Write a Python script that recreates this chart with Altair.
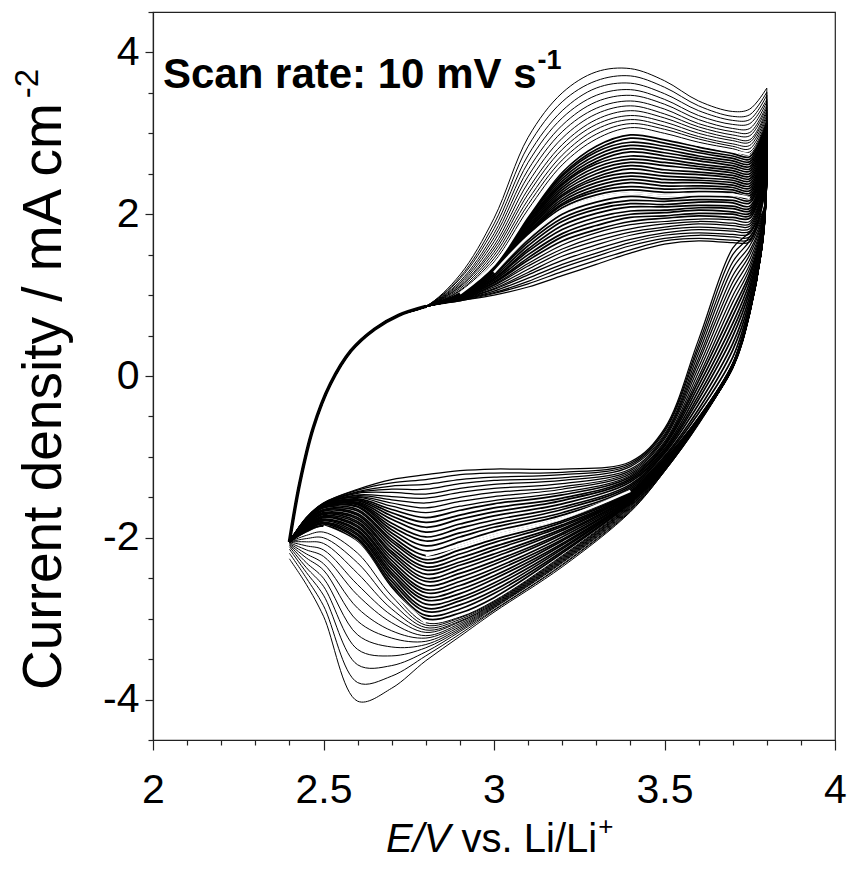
import altair as alt
import pandas as pd

# ---------------- data ----------------
# shared start of every anodic (upper) sweep
up_start_E = [2.40, 2.43, 2.47, 2.52, 2.58, 2.65, 2.72, 2.80]
up_start_I = [-2.05, -1.33, -0.64, -0.10, 0.31, 0.58, 0.75, 0.86]

# anodic sweep, per cycle (cycle 0 = first / outermost ... cycle 47 = last)
up_E = [2.90, 3.00, 3.10, 3.20, 3.30, 3.40, 3.50, 3.60, 3.70, 3.75, 3.80]
u290 = [1.25, 1.22, 1.20, 1.17, 1.15, 1.13, 1.11, 1.10, 1.08, 1.06, 1.05, 1.03, 1.02,
        1.02, 1.02, 1.01, 1.01, 1.01, 1.01, 1.00, 1.00, 1.00, 1.00, 1.00, 0.99, 0.99, 0.99, 0.99, 0.98, 0.98, 0.98,
        0.98, 0.97, 0.97, 0.97, 0.97, 0.96, 0.96, 0.96, 0.95, 0.95, 0.95, 0.95, 0.94, 0.94, 0.94, 0.93, 0.93]
u300 = [1.95, 1.88, 1.82, 1.76, 1.71, 1.66, 1.61, 1.57, 1.53, 1.49, 1.45, 1.41, 1.38,
        1.37, 1.37, 1.36, 1.36, 1.35, 1.35, 1.34, 1.34, 1.33, 1.32, 1.32, 1.31, 1.31, 1.30, 1.30, 1.29, 1.29, 1.28,
        1.26, 1.25, 1.23, 1.21, 1.20, 1.18, 1.16, 1.15, 1.13, 1.12, 1.10, 1.08, 1.07, 1.05, 1.03, 1.02, 1.00]
u310 = [2.95, 2.84, 2.73, 2.64, 2.55, 2.47, 2.39, 2.31, 2.25, 2.18, 2.12, 2.06, 2.00,
        1.98, 1.97, 1.95, 1.94, 1.92, 1.91, 1.89, 1.88, 1.86, 1.84, 1.83, 1.81, 1.80, 1.78, 1.77, 1.75, 1.74, 1.72,
        1.68, 1.65, 1.61, 1.57, 1.54, 1.50, 1.46, 1.43, 1.39, 1.36, 1.32, 1.28, 1.25, 1.21, 1.17, 1.14, 1.10]
u320 = [3.50, 3.39, 3.28, 3.19, 3.10, 3.02, 2.94, 2.86, 2.80, 2.73, 2.67, 2.61, 2.55,
        2.52, 2.49, 2.47, 2.44, 2.41, 2.38, 2.36, 2.33, 2.30, 2.27, 2.24, 2.22, 2.19, 2.16, 2.13, 2.11, 2.08, 2.05,
        2.00, 1.95, 1.91, 1.86, 1.81, 1.76, 1.72, 1.67, 1.62, 1.57, 1.53, 1.48, 1.43, 1.38, 1.34, 1.29, 1.24]
u330 = [3.76, 3.65, 3.56, 3.47, 3.39, 3.31, 3.24, 3.17, 3.11, 3.05, 2.99, 2.93, 2.88,
        2.84, 2.80, 2.77, 2.73, 2.69, 2.65, 2.62, 2.58, 2.54, 2.50, 2.46, 2.43, 2.39, 2.35, 2.31, 2.28, 2.24, 2.20,
        2.15, 2.10, 2.06, 2.01, 1.96, 1.91, 1.86, 1.81, 1.77, 1.72, 1.67, 1.62, 1.57, 1.52, 1.48, 1.43, 1.38]
u340 = [3.80, 3.71, 3.62, 3.54, 3.47, 3.40, 3.34, 3.28, 3.22, 3.17, 3.12, 3.07, 3.02,
        2.98, 2.94, 2.89, 2.85, 2.81, 2.77, 2.72, 2.68, 2.64, 2.60, 2.56, 2.51, 2.47, 2.43, 2.39, 2.34, 2.30, 2.26,
        2.22, 2.17, 2.13, 2.09, 2.04, 2.00, 1.96, 1.91, 1.87, 1.82, 1.78, 1.74, 1.69, 1.65, 1.61, 1.56, 1.52]
u350 = [3.65, 3.57, 3.49, 3.42, 3.36, 3.30, 3.24, 3.19, 3.14, 3.09, 3.05, 3.00, 2.96,
        2.92, 2.88, 2.84, 2.80, 2.76, 2.72, 2.68, 2.64, 2.60, 2.55, 2.51, 2.47, 2.43, 2.39, 2.35, 2.31, 2.27, 2.23,
        2.19, 2.16, 2.12, 2.09, 2.05, 2.02, 1.98, 1.95, 1.91, 1.88, 1.84, 1.81, 1.77, 1.74, 1.70, 1.67, 1.63]
u360 = [3.40, 3.34, 3.28, 3.22, 3.17, 3.12, 3.08, 3.04, 3.00, 2.96, 2.93, 2.89, 2.86,
        2.83, 2.79, 2.76, 2.72, 2.69, 2.66, 2.62, 2.59, 2.56, 2.52, 2.49, 2.45, 2.42, 2.39, 2.35, 2.32, 2.28, 2.25,
        2.22, 2.18, 2.15, 2.11, 2.08, 2.05, 2.01, 1.98, 1.94, 1.91, 1.88, 1.84, 1.81, 1.77, 1.74, 1.70, 1.67]
u370 = [3.27, 3.21, 3.16, 3.11, 3.06, 3.02, 2.98, 2.94, 2.91, 2.87, 2.84, 2.81, 2.78,
        2.75, 2.72, 2.69, 2.66, 2.63, 2.60, 2.57, 2.54, 2.51, 2.48, 2.45, 2.42, 2.39, 2.36, 2.33, 2.30, 2.27, 2.24,
        2.21, 2.17, 2.14, 2.10, 2.07, 2.03, 2.00, 1.96, 1.93, 1.89, 1.86, 1.82, 1.79, 1.75, 1.72, 1.68, 1.65]
u375 = [3.30, 3.23, 3.17, 3.12, 3.06, 3.01, 2.97, 2.92, 2.89, 2.85, 2.81, 2.77, 2.74,
        2.71, 2.68, 2.65, 2.62, 2.59, 2.56, 2.53, 2.50, 2.47, 2.44, 2.41, 2.38, 2.35, 2.32, 2.29, 2.26, 2.23, 2.20,
        2.17, 2.14, 2.10, 2.07, 2.04, 2.01, 1.98, 1.95, 1.91, 1.88, 1.85, 1.82, 1.79, 1.76, 1.72, 1.69, 1.66]
u380 = [3.56, 3.51, 3.47, 3.42, 3.39, 3.35, 3.32, 3.29, 3.26, 3.23, 3.20, 3.17, 3.15,
        3.13, 3.11, 3.08, 3.06, 3.04, 3.02, 2.99, 2.97, 2.95, 2.93, 2.91, 2.88, 2.86, 2.84, 2.82, 2.79, 2.77, 2.75,
        2.73, 2.71, 2.69, 2.67, 2.65, 2.63, 2.61, 2.59, 2.56, 2.54, 2.52, 2.50, 2.48, 2.46, 2.44, 2.42, 2.40]

# cathodic (lower) sweep, per cycle, from 3.8 V back to 2.4 V
dn_E = [3.79, 3.75, 3.70, 3.60, 3.50, 3.40, 3.20, 3.00, 2.90, 2.80, 2.70, 2.60, 2.50, 2.45, 2.40]
c379 = [1.90, 1.89, 1.88, 1.87, 1.86, 1.85, 1.84, 1.83, 1.83, 1.82, 1.81, 1.81, 1.80,
        1.80, 1.79, 1.79, 1.79, 1.79, 1.78, 1.78, 1.78, 1.78, 1.77, 1.77, 1.77, 1.76, 1.76, 1.76, 1.76, 1.75, 1.75,
        1.77, 1.79, 1.80, 1.82, 1.84, 1.86, 1.87, 1.89, 1.91, 1.93, 1.94, 1.96, 1.98, 2.00, 2.01, 2.03, 2.05]
c375 = [0.80, 0.80, 0.80, 0.79, 0.79, 0.79, 0.79, 0.79, 0.79, 0.78, 0.78, 0.78, 0.78,
        0.78, 0.78, 0.79, 0.79, 0.79, 0.79, 0.80, 0.80, 0.80, 0.80, 0.80, 0.81, 0.81, 0.81, 0.81, 0.82, 0.82, 0.82,
        0.88, 0.93, 0.99, 1.05, 1.10, 1.16, 1.22, 1.27, 1.33, 1.38, 1.44, 1.50, 1.55, 1.61, 1.67, 1.72, 1.78]
c370 = [0.12, 0.12, 0.12, 0.11, 0.11, 0.11, 0.11, 0.11, 0.11, 0.10, 0.10, 0.10, 0.10,
        0.10, 0.11, 0.11, 0.11, 0.11, 0.12, 0.12, 0.12, 0.13, 0.13, 0.13, 0.13, 0.14, 0.14, 0.14, 0.14, 0.15, 0.15,
        0.23, 0.32, 0.40, 0.49, 0.57, 0.65, 0.74, 0.82, 0.91, 0.99, 1.08, 1.16, 1.24, 1.33, 1.41, 1.50, 1.58]
c360 = [-0.60, -0.59, -0.59, -0.58, -0.58, -0.58, -0.57, -0.57, -0.57, -0.57, -0.56, -0.56, -0.56,
        -0.56, -0.56, -0.55, -0.55, -0.55, -0.55, -0.54, -0.54, -0.54, -0.54, -0.54, -0.53, -0.53, -0.53, -0.53, -0.52, -0.52, -0.52,
        -0.46, -0.41, -0.35, -0.29, -0.24, -0.18, -0.12, -0.06, -0.01, 0.05, 0.11, 0.17, 0.22, 0.28, 0.34, 0.39, 0.45]
c350 = [-1.18, -1.18, -1.17, -1.17, -1.16, -1.16, -1.16, -1.15, -1.15, -1.15, -1.14, -1.14, -1.14,
        -1.13, -1.13, -1.12, -1.12, -1.11, -1.10, -1.10, -1.09, -1.09, -1.08, -1.07, -1.07, -1.06, -1.05, -1.05, -1.04, -1.04, -1.03,
        -1.01, -0.99, -0.96, -0.94, -0.92, -0.90, -0.87, -0.85, -0.83, -0.81, -0.78, -0.76, -0.74, -0.72, -0.69, -0.67, -0.65]
c340 = [-1.68, -1.67, -1.66, -1.65, -1.64, -1.63, -1.62, -1.61, -1.61, -1.60, -1.59, -1.59, -1.58,
        -1.57, -1.56, -1.55, -1.54, -1.54, -1.53, -1.52, -1.51, -1.50, -1.49, -1.48, -1.47, -1.46, -1.46, -1.45, -1.44, -1.43, -1.42,
        -1.40, -1.38, -1.36, -1.34, -1.31, -1.29, -1.27, -1.25, -1.23, -1.21, -1.19, -1.17, -1.15, -1.12, -1.10, -1.08, -1.06]
c320 = [-2.36, -2.34, -2.33, -2.31, -2.30, -2.29, -2.28, -2.27, -2.26, -2.25, -2.24, -2.23, -2.22,
        -2.19, -2.17, -2.14, -2.12, -2.09, -2.07, -2.04, -2.02, -1.99, -1.96, -1.94, -1.91, -1.89, -1.86, -1.84, -1.81, -1.79, -1.76,
        -1.72, -1.69, -1.65, -1.62, -1.58, -1.54, -1.51, -1.47, -1.44, -1.40, -1.37, -1.33, -1.29, -1.26, -1.22, -1.19, -1.15]
c300 = [-2.92, -2.90, -2.89, -2.87, -2.86, -2.85, -2.84, -2.83, -2.82, -2.81, -2.80, -2.79, -2.78,
        -2.74, -2.69, -2.65, -2.60, -2.56, -2.51, -2.47, -2.42, -2.38, -2.33, -2.29, -2.24, -2.20, -2.15, -2.11, -2.06, -2.02, -1.97,
        -1.92, -1.87, -1.83, -1.78, -1.73, -1.68, -1.63, -1.58, -1.54, -1.49, -1.44, -1.39, -1.34, -1.29, -1.25, -1.20, -1.15]
c290 = [-3.22, -3.19, -3.16, -3.14, -3.12, -3.10, -3.08, -3.06, -3.04, -3.03, -3.01, -2.99, -2.98,
        -2.93, -2.88, -2.83, -2.78, -2.74, -2.69, -2.64, -2.59, -2.54, -2.49, -2.44, -2.39, -2.34, -2.30, -2.25, -2.20, -2.15, -2.10,
        -2.05, -1.99, -1.94, -1.88, -1.83, -1.77, -1.72, -1.66, -1.61, -1.55, -1.50, -1.44, -1.39, -1.33, -1.28, -1.22, -1.17]
c280 = [-3.52, -3.46, -3.41, -3.36, -3.32, -3.28, -3.24, -3.21, -3.17, -3.14, -3.11, -3.08, -3.05,
        -3.00, -2.96, -2.91, -2.87, -2.82, -2.77, -2.73, -2.68, -2.64, -2.59, -2.54, -2.50, -2.45, -2.40, -2.36, -2.31, -2.27, -2.22,
        -2.16, -2.10, -2.04, -1.99, -1.93, -1.87, -1.81, -1.75, -1.69, -1.63, -1.57, -1.51, -1.46, -1.40, -1.34, -1.28, -1.22]
c270 = [-3.86, -3.71, -3.58, -3.46, -3.35, -3.24, -3.15, -3.05, -2.96, -2.88, -2.80, -2.72, -2.65,
        -2.61, -2.58, -2.54, -2.50, -2.46, -2.43, -2.39, -2.35, -2.32, -2.28, -2.24, -2.20, -2.17, -2.13, -2.09, -2.05, -2.02, -1.98,
        -1.94, -1.90, -1.86, -1.82, -1.77, -1.73, -1.69, -1.65, -1.61, -1.57, -1.53, -1.49, -1.44, -1.40, -1.36, -1.32, -1.28]
c260 = [-4.02, -3.79, -3.57, -3.38, -3.20, -3.03, -2.87, -2.71, -2.58, -2.44, -2.31, -2.19, -2.07,
        -2.05, -2.02, -2.00, -1.97, -1.95, -1.92, -1.90, -1.87, -1.85, -1.82, -1.80, -1.77, -1.75, -1.72, -1.70, -1.67, -1.65, -1.62,
        -1.61, -1.59, -1.58, -1.57, -1.56, -1.54, -1.53, -1.52, -1.50, -1.49, -1.48, -1.47, -1.45, -1.44, -1.43, -1.41, -1.40]
c250 = [-2.97, -2.84, -2.71, -2.60, -2.50, -2.40, -2.32, -2.23, -2.15, -2.07, -2.00, -1.93, -1.86,
        -1.85, -1.83, -1.82, -1.81, -1.79, -1.78, -1.77, -1.75, -1.74, -1.73, -1.71, -1.70, -1.69, -1.67, -1.66, -1.65, -1.63, -1.62,
        -1.62, -1.61, -1.61, -1.61, -1.61, -1.60, -1.60, -1.60, -1.59, -1.59, -1.59, -1.59, -1.58, -1.58, -1.58, -1.57, -1.57]
c245 = [-2.58, -2.50, -2.43, -2.37, -2.31, -2.25, -2.20, -2.15, -2.10, -2.05, -2.01, -1.97, -1.93,
        -1.92, -1.91, -1.91, -1.90, -1.89, -1.88, -1.87, -1.86, -1.86, -1.85, -1.84, -1.83, -1.82, -1.81, -1.81, -1.80, -1.79, -1.78,
        -1.78, -1.78, -1.78, -1.77, -1.77, -1.77, -1.77, -1.77, -1.76, -1.76, -1.76, -1.76, -1.76, -1.75, -1.75, -1.75, -1.75]
c240 = [-2.26, -2.19, -2.14, -2.11, -2.09, -2.08, -2.07, -2.06, -2.05, -2.05, -2.05, -2.05, -2.05,
        -2.05, -2.05, -2.05, -2.05, -2.05, -2.05, -2.05, -2.05, -2.05, -2.05, -2.05, -2.05, -2.05, -2.05, -2.05, -2.05, -2.05, -2.05,
        -2.05, -2.05, -2.05, -2.05, -2.05, -2.05, -2.05, -2.05, -2.05, -2.05, -2.05, -2.05, -2.05, -2.05, -2.05, -2.05, -2.05]

# cycles drawn as white traces in the original
white_A = 12
white_B = 30
outer_last = 12   # cycles 0..12: well separated early cycles
late_first = 39   # cycles 39..47: last cycles, fanning out on the reverse sweep

x_ticks = [2.0, 2.1, 2.2, 2.3, 2.4, 2.5, 2.6, 2.7, 2.8, 2.9, 3.0,
           3.1, 3.2, 3.3, 3.4, 3.5, 3.6, 3.7, 3.8, 3.9, 4.0]
y_ticks = [-4.5, -4.0, -3.5, -3.0, -2.5, -2.0, -1.5, -1.0, -0.5, 0.0,
           0.5, 1.0, 1.5, 2.0, 2.5, 3.0, 3.5, 4.0, 4.5]

# ---------------- build long table ----------------
up_cols = [u290, u300, u310, u320, u330, u340, u350, u360, u370, u375, u380]
dn_cols = [c379, c375, c370, c360, c350, c340, c320, c300, c290, c280, c270, c260, c250, c245, c240]
N = len(u290)
rows = []
for k in range(N):
    s = 0
    for e, v in zip(up_start_E, up_start_I):
        rows.append({"path": f"{k}a", "cycle": k, "br": "a", "seq": s, "E": e, "I": v}); s += 1
    for e, col in zip(up_E, up_cols):
        rows.append({"path": f"{k}a", "cycle": k, "br": "a", "seq": s, "E": e, "I": col[k]}); s += 1
    rows.append({"path": f"{k}c", "cycle": k, "br": "c", "seq": 0, "E": up_E[-1], "I": u380[k]})
    for j, (e, col) in enumerate(zip(dn_E, dn_cols)):
        rows.append({"path": f"{k}c", "cycle": k, "br": "c", "seq": j + 1, "E": e, "I": col[k]})
df = pd.DataFrame(rows)
df_outer = df[df.cycle <= outer_last]
df_dense = df[(df.cycle > outer_last) & (df.cycle < late_first)]
df_late = df[df.cycle >= late_first]


def part(cyc, br, lo, hi, name):
    d = df[(df.cycle == cyc) & (df.br == br) & (df.E >= lo - 1e-9) & (df.E <= hi + 1e-9)].copy()
    d["path"] = name
    return d


white_df = pd.concat([
    part(white_A, "a", 2.90, 3.75, "wAa"),
    part(white_B, "a", 3.00, 3.75, "wBa"),
    part(white_A, "c", 2.50, 2.80, "wAc"),
    part(white_B, "c", 2.80, 3.40, "wBc"),
])
start_df = pd.DataFrame({"E": up_start_E, "I": up_start_I, "seq": list(range(len(up_start_E))),
                         "path": ["s"] * len(up_start_E)})

# ---------------- chart ----------------
FONT = "Liberation Sans, Arial, Helvetica, sans-serif"
AX = "#222222"
xs = alt.Scale(domain=[2, 4], nice=False, zero=False)
ys = alt.Scale(domain=[-4.5, 4.5], nice=False, zero=False)

xaxis = alt.Axis(values=x_ticks, title=None, grid=False, domainColor=AX, domainWidth=1.2,
                 tickColor=AX, tickWidth=1.2,
                 tickSize={"condition": {"test": "round(datum.value*10) % 5 === 0", "value": 10}, "value": 5},
                 labelExpr="round(datum.value*10) % 5 === 0 ? format(datum.value, '~g') : ''",
                 labelFont=FONT, labelFontSize=41, labelColor="black", labelPadding=20,
                 labelFlush=False, labelOverlap=False)
yaxis = alt.Axis(values=y_ticks, title=None, grid=False, domainColor=AX, domainWidth=1.2,
                 tickColor=AX, tickWidth=1.2,
                 tickSize={"condition": {"test": "round(datum.value*2) % 4 === 0", "value": 8}, "value": 5},
                 labelExpr="round(datum.value*2) % 4 === 0 ? (datum.value < 0 ? '-' : '') + format(abs(datum.value), '~g') : ''",
                 labelFont=FONT, labelFontSize=41, labelColor="black", labelPadding=6,
                 labelFlush=False, labelOverlap=False)

X = alt.X("E:Q", scale=xs, axis=xaxis)
Y = alt.Y("I:Q", scale=ys, axis=yaxis)


def cv_lines(data, width, colour="black"):
    return alt.Chart(data).mark_line(interpolate="catmull-rom", color=colour, strokeWidth=width).encode(
        x=X, y=Y, detail="path:N", order="seq:Q")


outer_lines = cv_lines(df_outer, 1.0)
dense_lines = cv_lines(df_dense, 1.7)
late_lines = cv_lines(df_late, 1.25)
thick = cv_lines(start_df, 3.4)
whites = cv_lines(white_df, 2.4, "white")

L, T = 153, 12  # plot origin in the page


def label(s, px, py, size, weight="normal", style="normal", align="left", angle=0):
    return alt.Chart(pd.DataFrame({"t": [s]})).mark_text(
        font=FONT, fontSize=size, fontWeight=weight, fontStyle=style, align=align,
        baseline="alphabetic", angle=angle, color="black").encode(
        text="t:N", x=alt.value(px - L), y=alt.value(py - T))


FA = 42  # annotation size
ann_w = 8.893 * FA
ann = label("Scan rate: 10 mV s", 163, 88, FA, weight="bold")
ann_sup = label("-1", 163 + ann_w + 1, 69, 27, weight="bold")

FX = 40
x0 = 386 + 1.612 * FX
xt1 = label("E/V", x0, 852, FX, style="italic", align="right")
xt2 = label("vs. Li/Li", x0 + 0.278 * FX, 852, FX)
xt3 = label("+", x0 + 0.278 * FX + 3.39 * FX + 1, 835, 26)

FY = 55
ybase = 61
ystart = 690
yt1 = label("Current density / mA cm", ybase, ystart, FY, angle=270)
yt2 = label("-2", ybase - 23, ystart - 10.725 * FY - 2, 33, angle=270)

chart = alt.layer(outer_lines, dense_lines, late_lines, thick, whites,
                  ann, ann_sup, xt1, xt2, xt3, yt1, yt2).properties(
    width=682, height=728,
    padding={"left": L, "top": T, "right": 856 - L - 682, "bottom": 871 - T - 728},
    autosize=alt.AutoSizeParams(type="none"),
    background="white",
).configure_view(stroke=AX, strokeWidth=1.2)

chart.save("out.html", embed_options={"renderer": "svg", "actions": False})
